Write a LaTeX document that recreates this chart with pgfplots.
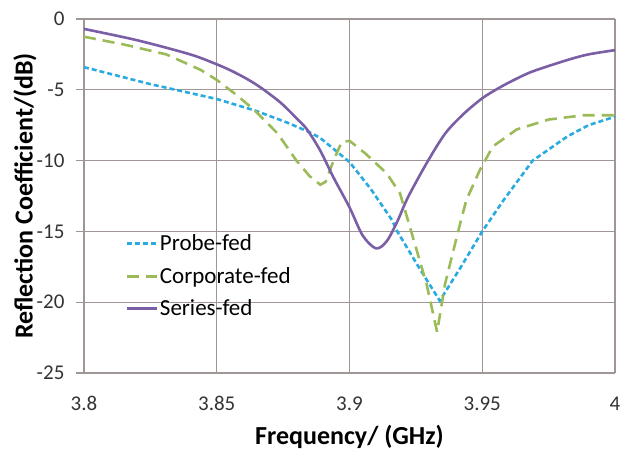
\documentclass[border=0pt]{standalone}
\usepackage{fontspec}
\setmainfont{Carlito}
\usepackage{pgfplots}
\pgfplotsset{compat=1.18}
\definecolor{gridc}{RGB}{160,150,150}
\definecolor{probe}{RGB}{41,171,226}
\definecolor{corp}{RGB}{155,187,89}
\definecolor{series}{RGB}{122,94,166}
\begin{document}
\begin{tikzpicture}
\path[use as bounding box] (-84pt,-77pt) rectangle (538pt,373pt);
\begin{axis}[
  at={(0pt,0pt)}, anchor=south west,
  scale only axis, width=531pt, height=354pt,
  xmin=3.8, xmax=4, ymin=-25, ymax=0,
  xtick={3.8,3.85,3.9,3.95,4},
  xticklabels={3.8,3.85,3.9,3.95,4},
  ytick={-25,-20,-15,-10,-5,0},
  yticklabels={-25,-20,-15,-10,-5,0},
  grid=major,
  grid style={gridc, line width=1.2pt},
  axis line style={gridc, line width=1.2pt},
  x axis line style={draw=none},
  axis x line*=bottom, axis y line*=left,
  tick align=outside, major tick length=8pt,
  ytick style={gridc, line width=1.2pt},
  xtick style={draw=none},
  /pgf/number format/assume math mode=true,
  tick label style={font=\fontsize{21}{25}\selectfont, text=black!80},
  xticklabel style={yshift=-12pt},
  yticklabel style={xshift=-8pt},
  xlabel={Frequency/ (GHz)},
  ylabel={Reflection Coefficient/(dB)},
  label style={font=\fontsize{26}{30}\selectfont\bfseries},
  xlabel style={at={(axis description cs:0.5,-0.181)}, anchor=center},
  ylabel style={at={(axis description cs:-0.111,0.5)}, anchor=center},
  legend cell align=left,
  legend style={draw=none, fill=none, font=\fontsize{23}{27}\selectfont,
    at={(axis cs:3.8155,-15.1)}, anchor=north west, row sep=11pt,
    inner sep=0pt},
  legend image code/.code={\draw[#1] (0pt,0pt) -- (30pt,0pt);},
]
\addplot[probe, line width=2.6pt, dash pattern=on 5pt off 3pt] coordinates {
(3.8,-3.4) (3.825,-4.6) (3.85,-5.65) (3.865,-6.5) (3.877,-7.35) (3.885,-8.0)
(3.889,-8.4) (3.9,-10.1) (3.908,-12) (3.916,-14.2) (3.918,-15) (3.926,-17.5)
(3.934,-19.9) (3.942,-17.5) (3.95,-15) (3.958,-12.8) (3.969,-10) (3.982,-8.3)
(3.99,-7.5) (4.0,-6.9)};
\addlegendentry{Probe-fed}
\addplot[corp, line width=2.6pt, dash pattern=on 12pt off 7pt] coordinates {
(3.8,-1.25) (3.815,-1.8) (3.831,-2.5) (3.844,-3.6) (3.85,-4.3) (3.857,-5.3)
(3.864,-6.4) (3.873,-8.1) (3.880,-10) (3.885,-11.1) (3.889,-11.7) (3.891,-11.5)
(3.894,-10) (3.897,-8.7) (3.900,-8.6) (3.906,-9.5) (3.914,-10.9) (3.919,-12.3)
(3.922,-14.2) (3.929,-18.7) (3.933,-22.1) (3.936,-18.7) (3.942,-14.2) (3.944,-12.8)
(3.949,-10.7) (3.954,-9.0) (3.963,-7.8) (3.975,-7.1) (3.988,-6.8) (4.0,-6.8)};
\addlegendentry{Corporate-fed}
\addplot[series, line width=2.6pt, smooth, tension=0.5] coordinates {
(3.8,-0.7) (3.82,-1.5) (3.84,-2.5) (3.85,-3.2) (3.856,-3.7) (3.862,-4.3)
(3.867,-4.9) (3.874,-5.9) (3.88,-7.0) (3.884,-7.8) (3.889,-9.3) (3.894,-11.2)
(3.9,-13.3) (3.905,-15.3) (3.910,-16.2) (3.914,-15.7) (3.918,-14.3) (3.922,-12.6)
(3.929,-10.2) (3.936,-8.1) (3.943,-6.7) (3.95,-5.6) (3.956,-4.9) (3.962,-4.3)
(3.969,-3.7) (3.982,-2.9) (3.99,-2.5) (4.0,-2.2)};
\addlegendentry{Series-fed}
\end{axis}
\end{tikzpicture}
\end{document}
